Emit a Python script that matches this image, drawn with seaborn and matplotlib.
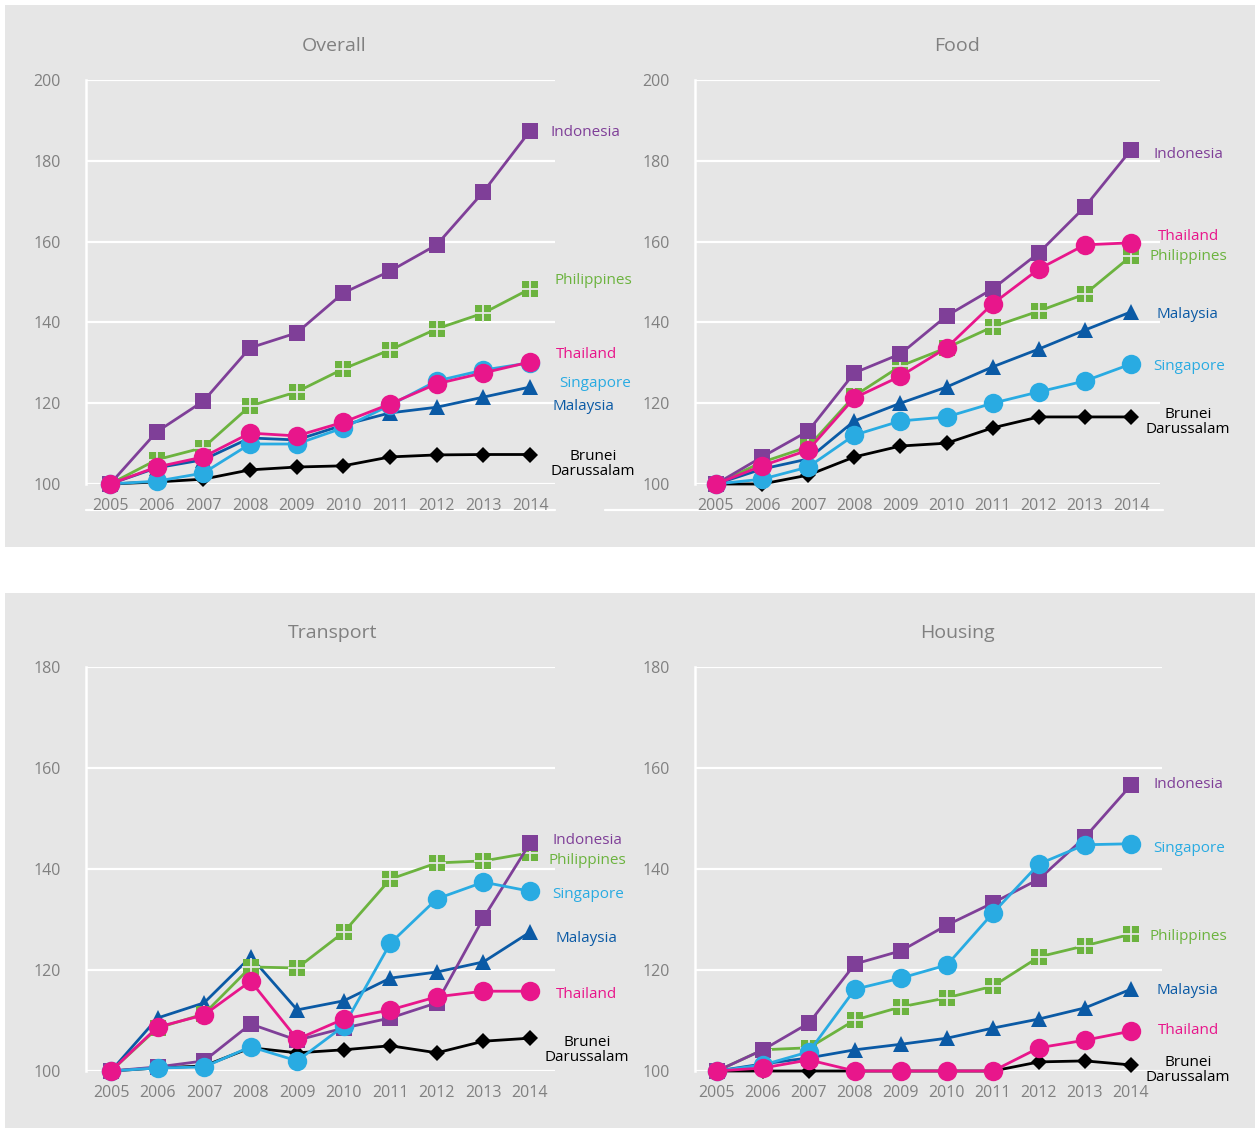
import matplotlib
matplotlib.use("Agg")
import matplotlib.pyplot as plt
from matplotlib.patches import Rectangle
from matplotlib.lines import Line2D
import seaborn as sns
import pandas as pd

sns.set_theme(style="white")
plt.rcParams["font.family"] = ["Open Sans", "DejaVu Sans"]

W, H = 1255, 1128

years = [2005, 2006, 2007, 2008, 2009, 2010, 2011, 2012, 2013, 2014]

# Price indices (2005 = 100)
overall_indonesia = [100, 112.9, 120.5, 133.7, 137.4, 147.3, 152.7, 159.2, 172.3, 187.4]
overall_philippines = [100, 106.0, 109.0, 119.3, 122.8, 128.5, 133.2, 138.4, 142.3, 148.3]
overall_thailand = [100, 104.2, 106.7, 112.6, 111.9, 115.3, 119.8, 124.8, 127.5, 130.2]
overall_singapore = [100, 100.7, 102.7, 109.9, 109.9, 113.9, 119.5, 125.5, 128.2, 130.0]
overall_malaysia = [100, 104.0, 106.0, 111.4, 110.9, 114.6, 117.6, 119.0, 121.5, 124.0]
overall_brunei = [100, 100.5, 101.2, 103.5, 104.2, 104.5, 106.7, 107.2, 107.3, 107.3]

food_indonesia = [100, 106.7, 113.1, 127.5, 132.2, 141.6, 148.3, 157.2, 168.6, 182.7]
food_philippines = [100, 105.4, 109.2, 121.8, 129.2, 133.7, 138.9, 142.8, 147.0, 156.4]
food_thailand = [100, 104.5, 108.4, 121.3, 126.7, 133.7, 144.6, 153.2, 159.2, 159.7]
food_singapore = [100, 101.2, 104.2, 112.1, 115.6, 116.6, 120.0, 122.8, 125.5, 129.7]
food_malaysia = [100, 103.7, 106.2, 115.6, 120.0, 124.0, 129.0, 133.4, 138.1, 142.6]
food_brunei = [100, 100.0, 102.2, 106.7, 109.4, 110.1, 113.9, 116.6, 116.6, 116.6]

transport_indonesia = [100, 100.8, 102.0, 109.3, 106.1, 108.5, 110.5, 113.5, 130.3, 145.1]
transport_philippines = [100, 108.5, 111.3, 120.6, 120.4, 127.5, 138.0, 141.2, 141.6, 143.2]
transport_thailand = [100, 108.7, 111.1, 117.8, 106.3, 110.3, 112.1, 114.7, 115.8, 115.8]
transport_singapore = [100, 100.6, 100.8, 104.8, 102.0, 108.9, 125.3, 134.1, 137.4, 135.6]
transport_malaysia = [100, 110.5, 113.5, 122.6, 112.1, 113.9, 118.4, 119.6, 121.6, 127.5]
transport_brunei = [100, 100.6, 101.0, 104.6, 103.6, 104.2, 105.0, 103.6, 105.9, 106.5]

housing_indonesia = [100, 104.2, 109.5, 121.2, 123.8, 128.9, 133.3, 138.0, 146.3, 156.6]
housing_philippines = [100, 104.2, 104.6, 110.1, 112.7, 114.5, 116.8, 122.6, 124.8, 127.1]
housing_thailand = [100, 100.6, 102.2, 100.0, 100.0, 100.0, 100.0, 104.6, 106.1, 107.9]
housing_singapore = [100, 101.2, 103.8, 116.2, 118.4, 121.0, 131.3, 141.0, 144.8, 145.0]
housing_malaysia = [100, 101.4, 102.6, 104.2, 105.3, 106.5, 108.5, 110.3, 112.5, 116.2]
housing_brunei = [100, 100.0, 100.0, 100.0, 100.0, 100.0, 100.0, 101.8, 102.0, 101.2]

countries = ["Brunei Darussalam", "Malaysia", "Philippines", "Indonesia", "Singapore", "Thailand"]

panels = {
    "Overall": {"Indonesia": overall_indonesia, "Philippines": overall_philippines,
                "Thailand": overall_thailand, "Singapore": overall_singapore,
                "Malaysia": overall_malaysia, "Brunei Darussalam": overall_brunei},
    "Food": {"Indonesia": food_indonesia, "Philippines": food_philippines,
             "Thailand": food_thailand, "Singapore": food_singapore,
             "Malaysia": food_malaysia, "Brunei Darussalam": food_brunei},
    "Transport": {"Indonesia": transport_indonesia, "Philippines": transport_philippines,
                  "Thailand": transport_thailand, "Singapore": transport_singapore,
                  "Malaysia": transport_malaysia, "Brunei Darussalam": transport_brunei},
    "Housing": {"Indonesia": housing_indonesia, "Philippines": housing_philippines,
                "Thailand": housing_thailand, "Singapore": housing_singapore,
                "Malaysia": housing_malaysia, "Brunei Darussalam": housing_brunei},
}

colors = {"Indonesia": "#7f3f98", "Philippines": "#6cb33f", "Thailand": "#e8168b",
          "Singapore": "#29abe2", "Malaysia": "#0b5aa5", "Brunei Darussalam": "#000000"}
markers = {"Indonesia": "s", "Philippines": "s", "Thailand": "o",
           "Singapore": "o", "Malaysia": "^", "Brunei Darussalam": "D"}
msizes = {"Indonesia": 11.5, "Philippines": 11.5, "Thailand": 14,
          "Singapore": 14, "Malaysia": 12, "Brunei Darussalam": 8.5}

GRAY = "#808080"
BG = "#e6e6e6"

fig = plt.figure(figsize=(W / 100, H / 100), dpi=100)
fig.patch.set_facecolor("white")


def fx(x):
    return x / W


def fy(y):
    return 1 - y / H


# Grey bands behind each row
for top, bottom in [(5, 547), (593, 1128)]:
    fig.add_artist(Rectangle((fx(5), fy(bottom)), fx(1255) - fx(5), fy(top) - fy(bottom),
                             transform=fig.transFigure, facecolor=BG, edgecolor="none",
                             zorder=-10))

# Panel layout in pixels: left, right, top, bottom, x of first year, x of last year, y-max
layout = {
    "Overall": dict(l=86, r=555, t=80, b=484, x0=110, x1=530, ymax=200, title=(334, 46)),
    "Food": dict(l=695, r=1160, t=80, b=484, x0=716, x1=1131, ymax=200, title=(957, 46)),
    "Transport": dict(l=86, r=555, t=667, b=1071, x0=111, x1=530, ymax=180, title=(333, 633)),
    "Housing": dict(l=695, r=1162, t=667, b=1071, x0=717, x1=1131, ymax=180, title=(957, 633)),
}

label_pos = {
    "Overall": {"Indonesia": (585, 133), "Philippines": (593, 281), "Thailand": (587, 355),
                "Singapore": (595, 383), "Malaysia": (583, 407), "Brunei Darussalam": (593, 464)},
    "Food": {"Indonesia": (1188, 154), "Thailand": (1189, 236), "Philippines": (1188, 257),
             "Malaysia": (1187, 314), "Singapore": (1189, 366), "Brunei Darussalam": (1188, 422)},
    "Transport": {"Indonesia": (587, 841), "Philippines": (587, 860), "Singapore": (588, 894),
                  "Malaysia": (586, 939), "Thailand": (587, 995), "Brunei Darussalam": (587, 1050)},
    "Housing": {"Indonesia": (1188, 785), "Singapore": (1189, 849), "Philippines": (1188, 936),
                "Malaysia": (1187, 991), "Thailand": (1189, 1030), "Brunei Darussalam": (1188, 1070)},
}

for name, spec in layout.items():
    ax = fig.add_axes([fx(spec["l"]), fy(spec["b"]), fx(spec["r"]) - fx(spec["l"]),
                       fy(spec["t"]) - fy(spec["b"])])
    ax.set_facecolor("none")
    ax.set_zorder(1)
    slope = (spec["x1"] - spec["x0"]) / (years[-1] - years[0])
    ax.set_xlim(years[0] - (spec["x0"] - spec["l"]) / slope,
                years[-1] + (spec["r"] - spec["x1"]) / slope)
    ax.set_ylim(100, spec["ymax"])

    ax.set_yticks(range(100, spec["ymax"] + 1, 20))
    ax.set_xticks(years)
    ax.set_xticklabels([str(y) for y in years])
    ax.grid(axis="y", color="white", linewidth=1.6, zorder=0)
    ax.set_axisbelow(True)
    for s in ["top", "right", "bottom"]:
        ax.spines[s].set_visible(False)
    ax.spines["left"].set_color("white")
    ax.spines["left"].set_linewidth(1.8)
    ax.spines["left"].set_zorder(0.5)
    ax.tick_params(axis="both", length=0, labelsize=11.5, labelcolor=GRAY)
    ax.tick_params(axis="y", pad=18)
    ax.tick_params(axis="x", pad=10)

    data = panels[name]
    for c in countries:
        df = pd.DataFrame({"year": years, "index": data[c]})
        sns.lineplot(data=df, x="year", y="index", ax=ax, color=colors[c],
                     marker=markers[c], markersize=msizes[c], markeredgewidth=0,
                     linewidth=2.0, clip_on=False, zorder=3, legend=False)
        if c == "Philippines":
            ax.plot(years, data[c], linestyle="none", marker="+", color=BG,
                    markersize=msizes[c] + 1, markeredgewidth=1.3, clip_on=False, zorder=3)
    ax.set_xlabel("")
    ax.set_ylabel("")

    fig.text(fx(spec["title"][0]), fy(spec["title"][1]), name, ha="center", va="center",
             fontsize=14, color=GRAY)

    for c, (x, y) in label_pos[name].items():
        txt = "Brunei\nDarussalam" if c == "Brunei Darussalam" else c
        fig.text(fx(x), fy(y), txt, ha="center", va="center", fontsize=11,
                 color=colors[c], linespacing=1.05)

# White baseline below the year labels in the top row
for x0, x1 in [(86, 555), (605, 1163)]:
    fig.add_artist(Line2D([fx(x0), fx(x1)], [fy(510), fy(510)], transform=fig.transFigure,
                          color="white", linewidth=1.6, zorder=0))

fig.savefig("out.png", dpi=100)
